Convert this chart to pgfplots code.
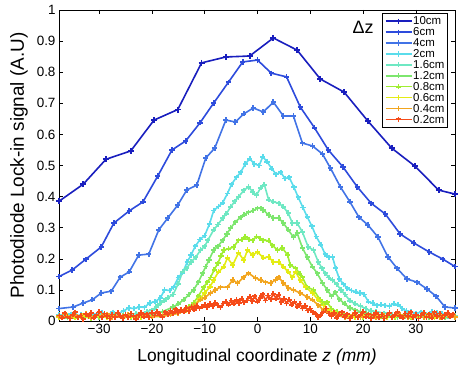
\documentclass[border=0pt]{standalone}
\usepackage{fontspec}
\setmainfont{Liberation Sans}
\usepackage{pgfplots}
\pgfplotsset{compat=1.18}

\definecolor{c10}{RGB}{25,30,190}
\definecolor{c6}{RGB}{45,75,220}
\definecolor{c4}{RGB}{65,115,230}
\definecolor{c2}{RGB}{90,220,235}
\definecolor{c16}{RGB}{110,232,195}
\definecolor{c12}{RGB}{125,230,110}
\definecolor{c08}{RGB}{160,238,50}
\definecolor{c06}{RGB}{228,236,20}
\definecolor{c04}{RGB}{242,165,30}
\definecolor{c02}{RGB}{245,75,25}

\begin{document}
\begin{tikzpicture}
\begin{axis}[
  scale only axis, width=396bp, height=311bp,
  xmin=-37.6, xmax=37.4, ymin=0, ymax=1,
  xtick={-30,-20,...,30},
  xticklabels={−30,−20,−10,0,10,20,30},
  ytick={0,0.1,...,1},
  yticklabels={0,0.1,0.2,0.3,0.4,0.5,0.6,0.7,0.8,0.9,1},
  tick label style={font=\fontsize{13.5}{14}\selectfont},
  major tick length=4bp,
  axis line style={line width=0.6bp},
  tick style={line width=0.6bp, black},
  xlabel={Longitudinal coordinate \textit{z (mm)}},
  ylabel={Photodiode Lock-in signal (A.U)},
  xlabel style={font=\fontsize{17.5}{18}\selectfont, at={(axis description cs:0.5,0)}, anchor=center, yshift=-36bp},
  ylabel style={font=\fontsize{19}{20}\selectfont, at={(axis description cs:0,0.5)}, anchor=center, yshift=40bp},
  every axis plot/.append style={line width=1.6bp, mark=+, mark size=2.6bp, mark options={line width=1.8bp}},
  legend cell align=left,
  legend style={at={(1,1)}, anchor=north east, xshift=-7bp, yshift=-3bp,
    draw=black, line width=0.6bp, inner sep=2.5bp,
    nodes={inner sep=0.8bp, text height=8.4bp, text depth=0.9bp, font=\fontsize{11.5}{11.5}\selectfont},
    row sep=0bp},
  legend image code/.code={\draw[mark repeat=2, mark phase=2, mark size=2.6bp] plot coordinates {(0bp,0bp) (13bp,0bp) (26bp,0bp)};},
]
% 10 cm
\addplot[c10, mark size=3bp] coordinates {
 (-37.6,0.385) (-33.0,0.440) (-28.7,0.520) (-24.0,0.547) (-19.6,0.646) (-15.1,0.680)
 (-10.6,0.830) (-6.0,0.849) (-1.5,0.852) (3.0,0.910) (7.5,0.871) (11.9,0.778)
 (16.4,0.736) (20.9,0.643) (25.4,0.556) (29.8,0.498) (34.3,0.421) (37.4,0.408)
};
\addlegendentry{10cm}
% 6 cm
\addplot[c6] coordinates {
 (-37.6,0.143) (-35.1,0.164) (-32.5,0.199) (-29.6,0.238) (-27.2,0.315) (-24.3,0.354)
 (-21.7,0.383) (-18.9,0.466) (-16.2,0.550) (-13.6,0.579) (-10.9,0.637) (-8.3,0.701)
 (-5.5,0.768) (-2.8,0.833) (0.0,0.839) (2.6,0.797) (5.5,0.785) (8.1,0.688)
 (10.8,0.621) (13.4,0.550) (16.2,0.495) (18.9,0.431) (21.5,0.379) (24.2,0.344)
 (27.0,0.280) (29.6,0.251) (32.5,0.222) (35.1,0.199) (37.4,0.175)
};
\addlegendentry{6cm}
% 4 cm
\addplot[c4] coordinates {
 (-37.6,0.040) (-34.9,0.045) (-33.0,0.058) (-31.3,0.068) (-29.6,0.090) (-27.7,0.096)
 (-26.0,0.141) (-24.3,0.158) (-22.5,0.212) (-20.6,0.215) (-18.7,0.293) (-17.0,0.331)
 (-15.1,0.373) (-13.4,0.421) (-11.5,0.437) (-9.8,0.524) (-8.1,0.556) (-6.0,0.646)
 (-4.2,0.640) (-2.6,0.666) (-0.8,0.685) (1.1,0.672) (3.0,0.704) (4.9,0.659)
 (6.8,0.659) (8.5,0.572) (10.4,0.563) (12.3,0.537) (13.8,0.492) (15.7,0.431)
 (17.5,0.383) (19.2,0.334) (20.9,0.309) (22.8,0.270) (24.7,0.206) (26.4,0.170)
 (28.3,0.135) (30.2,0.125) (32.1,0.103) (33.8,0.080) (35.5,0.045) (37.4,0.042)
};
\addlegendentry{4cm}
% 2 cm
\addplot[c2] coordinates {
 (-37.6,0.020) (-36.4,0.018) (-35.4,0.022) (-34.4,0.016) (-33.4,0.020) (-32.4,0.024)
 (-31.4,0.018) (-30.4,0.022) (-29.4,0.026) (-28.4,0.020) (-27.4,0.028) (-26.4,0.024)
 (-25.4,0.032) (-24.4,0.042) (-23.4,0.040) (-22.4,0.045) (-21.4,0.044) (-20.4,0.058)
 (-19.4,0.062) (-18.4,0.074) (-17.6,0.100) (-16.6,0.098) (-15.9,0.109) (-15.0,0.140)
 (-14.2,0.155) (-13.3,0.190) (-12.6,0.212) (-11.8,0.240) (-10.9,0.262) (-10.0,0.275)
 (-9.1,0.312) (-8.3,0.355) (-7.4,0.368) (-6.6,0.380) (-5.7,0.410) (-4.9,0.440)
 (-4.0,0.462) (-3.2,0.478) (-2.3,0.505) (-1.5,0.522) (-0.6,0.505) (0.3,0.500)
 (1.0,0.528) (1.8,0.512) (2.7,0.490) (3.5,0.472) (4.4,0.478) (5.2,0.458)
 (6.0,0.462) (6.9,0.430) (7.7,0.398) (8.6,0.365) (9.4,0.335) (10.3,0.305)
 (11.1,0.272) (12.0,0.245) (12.8,0.215) (13.5,0.205) (14.2,0.206) (14.8,0.170)
 (15.5,0.135) (16.3,0.118) (17.0,0.105) (17.8,0.098) (18.6,0.094) (19.4,0.090)
 (20.2,0.085) (21.0,0.062) (21.8,0.058) (22.6,0.050) (23.4,0.052) (24.2,0.050)
 (25.0,0.048) (25.8,0.056) (26.6,0.052) (27.4,0.040) (28.2,0.032) (29.0,0.030)
 (30.0,0.025) (31.0,0.028) (32.0,0.022) (33.0,0.030) (34.0,0.026) (35.0,0.024)
 (36.0,0.020) (37.4,0.018)
};
\addlegendentry{2cm}
% 1.6 cm
\addplot[c16] coordinates {
 (-37.6,0.015) (-36.0,0.018) (-34.5,0.013) (-33.0,0.017) (-31.5,0.014) (-30.0,0.019)
 (-28.5,0.015) (-27.0,0.020) (-25.5,0.017) (-24.0,0.022) (-23.0,0.024) (-22.0,0.025)
 (-21.0,0.030) (-20.0,0.035) (-19.2,0.045) (-18.5,0.055) (-17.7,0.065) (-17.0,0.075)
 (-16.0,0.085) (-15.0,0.120) (-14.2,0.158) (-13.4,0.170) (-12.6,0.190) (-11.7,0.205)
 (-10.8,0.228) (-10.0,0.240) (-9.4,0.260) (-8.3,0.293) (-7.5,0.310) (-6.6,0.331)
 (-5.9,0.345) (-5.1,0.367) (-4.3,0.385) (-3.6,0.399) (-2.6,0.420) (-1.7,0.431)
 (-0.9,0.415) (-0.2,0.405) (0.6,0.428) (1.3,0.438) (2.1,0.390) (3.0,0.383)
 (4.0,0.379) (4.9,0.367) (5.8,0.347) (6.6,0.315) (7.5,0.315) (8.5,0.286)
 (9.6,0.238) (10.6,0.228) (11.5,0.190) (12.2,0.170) (12.8,0.154) (13.5,0.140)
 (14.2,0.132) (15.0,0.118) (15.8,0.100) (16.6,0.085) (17.5,0.065) (18.5,0.055)
 (19.5,0.048) (20.5,0.040) (21.5,0.032) (22.5,0.030) (24.0,0.025) (25.5,0.020)
 (27.0,0.017) (28.5,0.020) (30.0,0.015) (31.5,0.018) (33.0,0.014) (34.5,0.019)
 (36.0,0.015) (37.4,0.017)
};
\addlegendentry{1.6cm}
% 1.2 cm
\addplot[c12] coordinates {
 (-37.6,0.014) (-36.0,0.010) (-34.5,0.016) (-33.0,0.012) (-31.5,0.017) (-30.0,0.011)
 (-28.5,0.015) (-27.0,0.012) (-25.5,0.016) (-24.0,0.013) (-22.0,0.017) (-20.0,0.020)
 (-18.0,0.030) (-16.0,0.045) (-15.0,0.055) (-14.0,0.068) (-13.0,0.085) (-12.1,0.100)
 (-11.2,0.125) (-10.4,0.154) (-9.8,0.175) (-9.2,0.196) (-8.3,0.228) (-7.5,0.240)
 (-6.6,0.260) (-5.8,0.280) (-5.1,0.299) (-4.2,0.318) (-3.2,0.334) (-2.5,0.342)
 (-1.7,0.350) (-0.8,0.355) (0.0,0.363) (0.6,0.362) (1.1,0.357) (2.1,0.341)
 (3.0,0.331) (4.0,0.331) (4.9,0.315) (5.8,0.293) (6.8,0.270) (7.5,0.283)
 (8.5,0.235) (9.4,0.206) (10.4,0.174) (11.3,0.154) (12.3,0.122) (13.2,0.100)
 (14.0,0.080) (14.7,0.092) (15.5,0.070) (16.5,0.055) (17.5,0.042) (18.5,0.035)
 (19.5,0.030) (20.5,0.025) (22.0,0.020) (23.5,0.015) (25.0,0.018) (26.5,0.012)
 (28.0,0.016) (29.5,0.011) (31.0,0.017) (32.5,0.012) (34.0,0.015) (35.5,0.011)
 (37.4,0.014)
};
\addlegendentry{1.2cm}
% 0.8 cm
\addplot[c08] coordinates {
 (-37.6,0.012) (-36.0,0.016) (-34.5,0.010) (-33.0,0.014) (-31.5,0.009) (-30.0,0.015)
 (-28.5,0.011) (-27.0,0.016) (-25.5,0.010) (-24.0,0.014) (-22.0,0.012) (-20.0,0.015)
 (-18.5,0.018) (-17.0,0.022) (-15.0,0.030) (-14.0,0.035) (-13.0,0.045) (-12.1,0.058)
 (-11.2,0.080) (-10.2,0.109) (-9.5,0.125) (-8.9,0.140) (-8.2,0.165) (-7.5,0.186)
 (-6.9,0.210) (-6.4,0.228) (-5.5,0.232) (-4.5,0.238) (-3.6,0.260) (-2.9,0.262)
 (-2.3,0.270) (-1.6,0.262) (-0.9,0.260) (-0.2,0.272) (0.5,0.265) (1.1,0.260)
 (2.1,0.258) (2.8,0.244) (3.8,0.228) (4.7,0.235) (5.7,0.212) (6.2,0.180)
 (7.2,0.170) (8.0,0.152) (8.5,0.141) (9.4,0.109) (10.6,0.100) (11.9,0.068)
 (12.6,0.055) (13.2,0.060) (14.0,0.040) (15.0,0.030) (16.0,0.025) (17.0,0.020)
 (18.5,0.018) (20.0,0.013) (21.5,0.016) (23.0,0.010) (24.5,0.014) (26.0,0.011)
 (27.5,0.015) (29.0,0.010) (30.5,0.014) (32.0,0.011) (33.5,0.015) (35.0,0.010)
 (37.4,0.013)
};
\addlegendentry{0.8cm}
% 0.6 cm
\addplot[c06] coordinates {
 (-37.6,0.012) (-36.0,0.018) (-34.5,0.011) (-33.0,0.016) (-31.5,0.010) (-30.0,0.017)
 (-28.5,0.012) (-27.0,0.015) (-25.5,0.010) (-24.0,0.016) (-22.0,0.012) (-20.0,0.014)
 (-18.0,0.018) (-16.5,0.020) (-15.0,0.025) (-13.5,0.035) (-12.0,0.050) (-11.0,0.070)
 (-10.0,0.090) (-9.0,0.110) (-8.3,0.132) (-7.4,0.158) (-6.4,0.174) (-5.7,0.203)
 (-4.7,0.180) (-3.6,0.219) (-2.6,0.196) (-1.9,0.228) (-0.9,0.212) (0.0,0.222)
 (1.1,0.203) (2.1,0.206) (3.0,0.190) (4.0,0.190) (4.9,0.174) (5.8,0.158)
 (6.6,0.141) (7.2,0.158) (8.1,0.132) (9.1,0.109) (10.4,0.090) (11.5,0.068)
 (12.5,0.050) (13.5,0.035) (14.5,0.028) (15.5,0.022) (17.0,0.016) (18.5,0.012)
 (20.0,0.016) (21.5,0.010) (23.0,0.015) (24.5,0.011) (26.0,0.016) (27.5,0.010)
 (29.0,0.014) (30.5,0.011) (32.0,0.016) (33.5,0.010) (35.0,0.014) (37.4,0.012)
};
\addlegendentry{0.6cm}
% 0.4 cm
\addplot[c04] coordinates {
 (-37.6,0.015) (-36.5,0.022) (-35.5,0.012) (-34.5,0.020) (-33.5,0.014) (-32.5,0.024)
 (-31.5,0.012) (-30.5,0.020) (-29.5,0.016) (-28.5,0.022) (-27.5,0.012) (-26.5,0.018)
 (-25.5,0.014) (-24.5,0.020) (-23.0,0.012) (-21.5,0.018) (-20.0,0.014) (-18.0,0.015)
 (-16.5,0.020) (-15.0,0.025) (-14.0,0.032) (-13.0,0.040) (-12.0,0.050) (-10.8,0.068)
 (-10.0,0.075) (-8.9,0.090) (-8.0,0.100) (-7.0,0.109) (-5.7,0.109) (-4.7,0.132)
 (-3.8,0.122) (-2.6,0.141) (-1.7,0.154) (-0.4,0.138) (0.6,0.132) (1.5,0.125)
 (2.5,0.122) (3.4,0.132) (4.0,0.141) (4.9,0.122) (5.8,0.106) (6.8,0.100)
 (8.1,0.090) (9.4,0.077) (10.4,0.068) (11.5,0.051) (12.5,0.035) (13.5,0.025)
 (15.0,0.018) (16.5,0.012) (18.0,0.020) (19.5,0.013) (21.0,0.018) (22.5,0.010)
 (24.0,0.016) (25.5,0.012) (27.0,0.020) (28.5,0.013) (30.0,0.018) (31.5,0.011)
 (33.0,0.017) (34.5,0.012) (36.0,0.018) (37.4,0.013)
};
\addlegendentry{0.4cm}
% 0.2 cm
\addplot[c02] coordinates {
 (-37.5,0.018) (-37.0,0.010) (-36.5,0.025) (-36.0,0.014) (-35.5,0.008) (-35.0,0.020)
 (-34.5,0.028) (-34.0,0.012) (-33.5,0.018) (-33.0,0.006) (-32.5,0.022) (-32.0,0.015)
 (-31.5,0.026) (-31.0,0.010) (-30.5,0.019) (-30.0,0.030) (-29.5,0.012) (-29.0,0.024)
 (-28.5,0.016) (-28.0,0.008) (-27.5,0.021) (-27.0,0.013) (-26.5,0.027) (-26.0,0.017)
 (-25.5,0.009) (-25.0,0.020) (-24.5,0.012) (-24.0,0.024) (-23.5,0.016) (-23.0,0.007)
 (-22.5,0.019) (-22.0,0.026) (-21.5,0.014) (-21.0,0.022) (-20.5,0.011) (-20.0,0.027)
 (-19.5,0.018) (-19.0,0.030) (-18.5,0.020) (-18.0,0.012) (-17.5,0.028) (-17.0,0.022)
 (-16.5,0.034) (-16.0,0.025) (-15.5,0.038) (-15.0,0.028) (-14.5,0.036) (-14.0,0.030)
 (-13.5,0.042) (-13.0,0.032) (-12.5,0.045) (-12.0,0.036) (-11.5,0.048) (-11.0,0.040)
 (-10.5,0.046) (-10.0,0.052) (-9.5,0.044) (-9.0,0.055) (-8.5,0.047) (-8.0,0.058)
 (-7.5,0.050) (-7.0,0.044) (-6.5,0.056) (-6.0,0.062) (-5.5,0.052) (-5.0,0.066)
 (-4.5,0.055) (-4.0,0.068) (-3.5,0.058) (-3.0,0.072) (-2.5,0.060) (-2.0,0.066)
 (-1.5,0.078) (-1.0,0.064) (-0.5,0.080) (0.0,0.062) (0.5,0.074) (1.0,0.086)
 (1.5,0.066) (2.0,0.082) (2.5,0.070) (3.0,0.088) (3.5,0.072) (4.0,0.084)
 (4.5,0.060) (5.0,0.072) (5.5,0.056) (6.0,0.068) (6.5,0.052) (7.0,0.062)
 (7.5,0.046) (8.0,0.056) (8.5,0.040) (9.0,0.048) (9.5,0.034) (10.0,0.040)
 (10.5,0.028) (11.0,0.022) (11.5,0.012) (12.0,0.020) (12.5,0.030) (13.0,0.040)
 (13.5,0.024) (14.0,0.016) (14.5,0.026) (15.0,0.010) (15.5,0.020) (16.0,0.028)
 (16.5,0.014) (17.0,0.022) (17.5,0.008) (18.0,0.018) (18.5,0.026) (19.0,0.012)
 (19.5,0.020) (20.0,0.030) (20.5,0.014) (21.0,0.022) (21.5,0.009) (22.0,0.019)
 (22.5,0.027) (23.0,0.013) (23.5,0.021) (24.0,0.008) (24.5,0.018) (25.0,0.026)
 (25.5,0.012) (26.0,0.020) (26.5,0.030) (27.0,0.015) (27.5,0.010) (28.0,0.024)
 (28.5,0.016) (29.0,0.028) (29.5,0.012) (30.0,0.020) (30.5,0.008) (31.0,0.018)
 (31.5,0.026) (32.0,0.013) (32.5,0.022) (33.0,0.010) (33.5,0.028) (34.0,0.016)
 (34.5,0.024) (35.0,0.010) (35.5,0.020) (36.0,0.027) (36.5,0.014) (37.0,0.022)
 (37.5,0.012)
};
\addlegendentry{0.2cm}
\node[font=\fontsize{18}{18}\selectfont] at (rel axis cs:0.768,0.945) {Δz};
\end{axis}
\pgfresetboundingbox
\path (current axis.south west) ++(-59bp,-61bp) rectangle ++(463bp,382bp);
\end{tikzpicture}
\end{document}
